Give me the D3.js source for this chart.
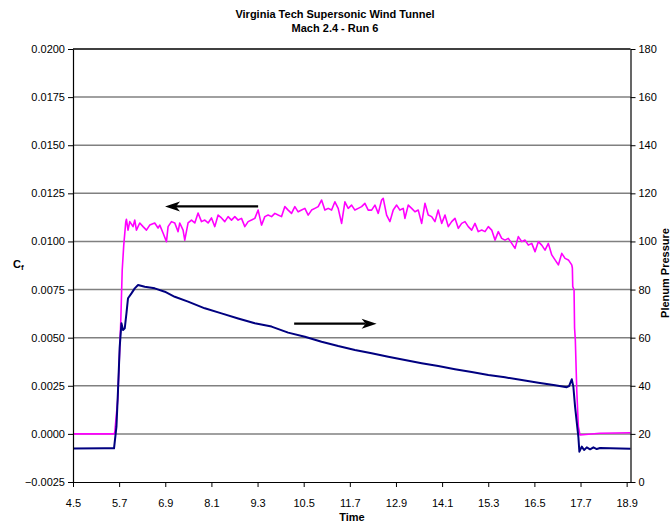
<!DOCTYPE html>
<html>
<head>
<meta charset="utf-8">
<script src="https://cdn.jsdelivr.net/npm/d3@7"></script>
<style>
  html, body { margin: 0; padding: 0; background: #fff; }
  svg { display: block; }
  text { font-family: Arial, "Liberation Sans", sans-serif; }
</style>
</head>
<body>
<script>
// ---------------- DATA ----------------
const titleLines = ["Virginia Tech Supersonic Wind Tunnel", "Mach 2.4 - Run 6"];
const xTicks = [4.5, 5.7, 6.9, 8.1, 9.3, 10.5, 11.7, 12.9, 14.1, 15.3, 16.5, 17.7, 18.9];
const yLeftTicks = [-0.0025, 0.0000, 0.0025, 0.0050, 0.0075, 0.0100, 0.0125, 0.0150, 0.0175, 0.0200];
const yRightTicks = [0, 20, 40, 60, 80, 100, 120, 140, 160, 180];

// Skin friction coefficient Cf (left axis) – magenta
const cfTime = [4.5, 5.56, 5.585, 5.663, 5.741, 5.78, 5.82, 5.872, 5.89, 5.931, 5.976, 6.062, 6.106, 6.15, 6.236, 6.322,
  6.41, 6.496, 6.626, 6.712, 6.757, 6.842, 6.931, 6.973, 7.061, 7.147, 7.233, 7.277, 7.363, 7.407, 7.493, 7.582,
  7.668, 7.753, 7.842, 7.928, 8.014, 8.102, 8.188, 8.274, 8.362, 8.448, 8.534, 8.623, 8.709, 8.795, 8.883, 8.969,
  9.055, 9.143, 9.229, 9.315, 9.404, 9.489, 9.575, 9.664, 9.75, 9.836, 9.924, 10.01, 10.096, 10.184, 10.27, 10.356,
  10.445, 10.531, 10.617, 10.705, 10.791, 10.877, 10.965, 11.051, 11.137, 11.226, 11.312, 11.397, 11.486, 11.572,
  11.658, 11.746, 11.832, 11.918, 12.007, 12.092, 12.178, 12.267, 12.353, 12.439, 12.527, 12.569, 12.657, 12.743,
  12.829, 12.918, 13.003, 13.089, 13.133, 13.219, 13.308, 13.394, 13.48, 13.568, 13.654, 13.74, 13.828, 13.914,
  14.0, 14.089, 14.175, 14.261, 14.349, 14.435, 14.521, 14.609, 14.695, 14.781, 14.869, 14.955, 15.041, 15.13,
  15.216, 15.302, 15.39, 15.476, 15.562, 15.65, 15.736, 15.822, 15.911, 15.997, 16.082, 16.171, 16.257, 16.343,
  16.431, 16.517, 16.603, 16.691, 16.777, 16.863, 16.952, 17.038, 17.124, 17.212, 17.298, 17.384, 17.472, 17.488,
  17.498, 17.532, 17.545, 17.565, 17.602, 17.644, 17.688, 18.2, 19.0];
const cfValues = [0.0000, 0.0000, 0.00005, 0.00176, 0.00576, 0.00852, 0.00981, 0.01101, 0.01115, 0.01059, 0.01103, 0.01077, 0.01111, 0.01059, 0.01096, 0.01077,
  0.01059, 0.01085, 0.01096, 0.01070, 0.01085, 0.01044, 0.00999, 0.01077, 0.01103, 0.01096, 0.01051, 0.01096, 0.01059, 0.01007, 0.01096, 0.01111,
  0.01096, 0.01148, 0.01103, 0.01111, 0.01096, 0.01122, 0.01077, 0.01137, 0.01122, 0.01103, 0.01129, 0.01111, 0.01129, 0.01111, 0.01120, 0.01077,
  0.01103, 0.01111, 0.01120, 0.01163, 0.01085, 0.01129, 0.01137, 0.01129, 0.01146, 0.01137, 0.01129, 0.01181, 0.01163, 0.01146, 0.01181, 0.01154,
  0.01163, 0.01172, 0.01137, 0.01163, 0.01172, 0.01181, 0.01215, 0.01163, 0.01172, 0.01163, 0.01206, 0.01172, 0.01094, 0.01206,
  0.01172, 0.01189, 0.01163, 0.01172, 0.01181, 0.01198, 0.01163, 0.01163, 0.01189, 0.01146, 0.01215, 0.01224, 0.01137, 0.01103,
  0.01163, 0.01189, 0.01163, 0.01172, 0.01120, 0.01189, 0.01172, 0.01154, 0.01163, 0.01094, 0.01198, 0.01137, 0.01129, 0.01103,
  0.01163, 0.01094, 0.01137, 0.01077, 0.01103, 0.01120, 0.01068, 0.01094, 0.01103, 0.01077, 0.01059, 0.01094, 0.01051, 0.01059,
  0.01051, 0.01077, 0.01059, 0.01007, 0.01051, 0.01016, 0.01007, 0.01016, 0.00990, 0.00964, 0.01025, 0.00999, 0.01007, 0.00981,
  0.00990, 0.00947, 0.00999, 0.00981, 0.00955, 0.00990, 0.00930, 0.00904, 0.00878, 0.00938, 0.00912, 0.00904, 0.00878, 0.00862,
  0.00765, 0.00748, 0.00550, 0.00488, 0.00228, 0.00037, -0.00006, 0.00003, 0.00006];

// Plenum pressure (right axis) – navy
const pTime = [4.5, 5.325, 5.567, 5.63, 5.671, 5.715, 5.76, 5.801, 5.846, 5.89, 5.931, 6.02, 6.106, 6.192, 6.366, 6.626,
  6.887, 7.147, 7.493, 7.928, 8.362, 8.795, 9.229, 9.664, 10.096, 10.531, 10.965, 11.397, 11.832, 12.267, 12.699,
  13.133, 13.568, 14.0, 14.435, 14.869, 15.302, 15.736, 16.171, 16.603, 17.038, 17.342, 17.402, 17.472, 17.514,
  17.558, 17.644, 17.67, 17.733, 17.793, 17.863, 17.949, 18.035, 18.123, 18.209, 19.0];
const pValues = [13.9, 14.0, 14.0, 23.0, 38.2, 56.2, 66.0, 63.2, 63.9, 70.1, 76.4, 78.4, 80.5, 81.9, 81.2, 80.5,
  79.1, 77.0, 75.0, 72.2, 70.1, 68.0, 66.0, 64.6, 62.1, 60.4, 58.3, 56.5, 54.9, 53.5, 52.1,
  50.7, 49.4, 48.2, 46.9, 45.7, 44.5, 43.5, 42.4, 41.3, 40.2, 39.4, 39.9, 42.7, 39.6,
  31.3, 18.8, 12.6, 14.7, 13.3, 14.4, 13.6, 14.4, 13.7, 14.1, 13.8];

// Annotation arrows (data coordinates)
const arrowCf = { x0: 9.315, x1: 6.893, y: 0.01182 };   // points left -> Cf axis
const arrowP  = { x0: 10.252, x1: 12.397, y: 65.8 };   // points right -> pressure axis

// ---------------- CHART ----------------
const W = 670, H = 524;
const svg = d3.select("body").append("svg").attr("width", W).attr("height", H);

const x = d3.scaleLinear().domain([4.5, 19.0]).range([73, 630.5]);
const yL = d3.scaleLinear().domain([-0.0025, 0.02]).range([482, 49]);
const yR = d3.scaleLinear().domain([0, 180]).range([482, 49]);

// gridlines
svg.append("g").selectAll("line").data(yLeftTicks.filter(d => d > -0.0025))
  .join("line")
  .attr("x1", x.range()[0]).attr("x2", x.range()[1])
  .attr("y1", d => yL(d)).attr("y2", d => yL(d))
  .attr("stroke", d => d === 0.02 ? "#000" : "#808080")
  .attr("stroke-width", d => d === 0.02 ? 1.3 : 1.5);

// series
const cfData = cfTime.map((t, i) => [t, cfValues[i]]);
const pData = pTime.map((t, i) => [t, pValues[i]]);

svg.append("path").datum(cfData)
  .attr("fill", "none").attr("stroke", "#FF00FF").attr("stroke-width", 1.6)
  .attr("stroke-linejoin", "round")
  .attr("d", d3.line().x(d => x(d[0])).y(d => yL(d[1])));

svg.append("path").datum(pData)
  .attr("fill", "none").attr("stroke", "#000080").attr("stroke-width", 2)
  .attr("stroke-linejoin", "round")
  .attr("d", d3.line().x(d => x(d[0])).y(d => yR(d[1])));

// axes
const fmtL = d3.format(".4f");
const axL = svg.append("g").attr("transform", `translate(${x.range()[0]},0)`)
  .call(d3.axisLeft(yL).tickValues(yLeftTicks).tickFormat(fmtL).tickSize(5).tickSizeOuter(0).tickPadding(3));
const axR = svg.append("g").attr("transform", `translate(${x.range()[1]},0)`)
  .call(d3.axisRight(yR).tickValues(yRightTicks).tickFormat(d3.format("d")).tickSize(5).tickSizeOuter(0).tickPadding(3));
const axB = svg.append("g").attr("transform", `translate(0,${yL.range()[0]})`)
  .call(d3.axisBottom(x).tickValues(xTicks).tickFormat(d3.format(".1f")).tickSize(5).tickSizeOuter(0).tickPadding(12));

[axL, axR, axB].forEach(g => {
  g.selectAll("text").attr("font-size", 11).attr("fill", "#000")
    .attr("font-family", 'Arial, "Liberation Sans", sans-serif');
  g.selectAll("line").attr("stroke", "#000");
  g.select(".domain").attr("stroke", "#000").attr("stroke-width", 1.2);
});

// arrows
function arrow(x0, x1, yPix) {
  const dir = Math.sign(x1 - x0);
  const len = 15, half = 5, notch = 11;
  svg.append("line")
    .attr("x1", x0).attr("x2", x1 - dir * notch)
    .attr("y1", yPix).attr("y2", yPix)
    .attr("stroke", "#000").attr("stroke-width", 2.3);
  svg.append("path")
    .attr("d", `M${x1},${yPix} L${x1 - dir * len},${yPix - half} L${x1 - dir * notch},${yPix} L${x1 - dir * len},${yPix + half} Z`)
    .attr("fill", "#000");
}
arrow(x(arrowCf.x0), x(arrowCf.x1), yL(arrowCf.y));
arrow(x(arrowP.x0), x(arrowP.x1), yR(arrowP.y));

// titles
svg.append("text").attr("x", 335).attr("y", 18).attr("text-anchor", "middle")
  .attr("font-size", 11).attr("font-weight", "bold").text(titleLines[0]);
svg.append("text").attr("x", 335).attr("y", 32).attr("text-anchor", "middle")
  .attr("font-size", 11).attr("font-weight", "bold").text(titleLines[1]);

// axis titles
svg.append("text").attr("x", 352).attr("y", 521).attr("text-anchor", "middle")
  .attr("font-size", 11).attr("font-weight", "bold").text("Time");

const cf = svg.append("text").attr("x", 13).attr("y", 268)
  .attr("font-size", 11).attr("font-weight", "bold");
cf.append("tspan").text("C");
cf.append("tspan").attr("font-size", 8).attr("dy", 2).text("f");

svg.append("text")
  .attr("transform", "translate(669,273) rotate(-90)")
  .attr("text-anchor", "middle")
  .attr("font-size", 11).attr("font-weight", "bold").text("Plenum Pressure");
</script>
</body>
</html>
